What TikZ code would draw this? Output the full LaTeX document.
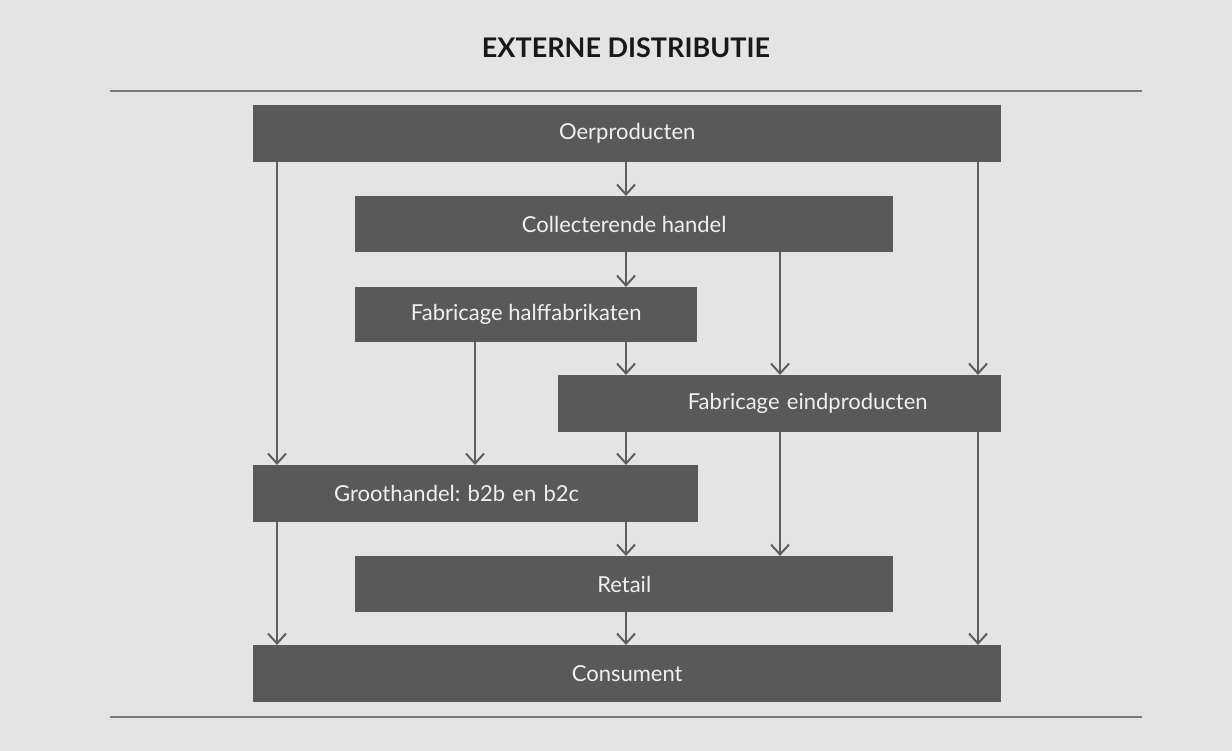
\documentclass[tikz,border=0pt]{standalone}
\usepackage{fontspec}
\setmainfont{Lato}
\usetikzlibrary{arrows.meta}
\definecolor{bg}{HTML}{E4E4E4}
\definecolor{boxc}{HTML}{595959}
\definecolor{linec}{HTML}{5E5E5E}
\definecolor{rulec}{HTML}{7A7A7A}
\definecolor{txtc}{HTML}{F0F0F0}
\tikzset{
  stage/.style={fill=boxc, draw=none, text=txtc, inner sep=0pt, font=\frenchspacing\fontsize{22}{26}\selectfont, anchor=north west},
  flow/.style={draw=linec, line width=2pt, -{Straight Barb[length=10pt,width=18pt,line width=2pt]}},
  rulel/.style={draw=rulec, line width=1.6pt}
}
\begin{document}
\begin{tikzpicture}[x=1pt,y=-1pt]
\fill[bg] (0,0) rectangle (1232,751);
\useasboundingbox (0,0) rectangle (1232,751);
\node[font=\bfseries\fontsize{27}{30}\selectfont, text=black!90] (title) at (626,48) {EXTERNE DISTRIBUTIE};
\coordinate (r1a) at (110,91); \coordinate (r1b) at (1142,91);
\coordinate (r2a) at (110,717); \coordinate (r2b) at (1142,717);
\draw[rulel] (r1a) -- (r1b);
\draw[rulel] (r2a) -- (r2b);

\node[stage, minimum width=748pt, minimum height=57pt] (oer) at (253,105) {Oerproducten};
\node[stage, minimum width=538pt, minimum height=56pt] (col) at (355,196) {Collecterende handel};
\node[stage, minimum width=342pt, minimum height=55pt] (half) at (355,287) {Fabricage halffabrikaten};
\node[stage, minimum width=443pt, minimum height=57pt, text width=443pt, align=center] (eind) at (558,375) {\hspace*{56pt}Fabricage eindproducten};
\node[stage, minimum width=445pt, minimum height=57pt, text width=445pt, align=center] (groot) at (253,465) {\hspace*{-38pt}Groothandel: b2b en b2c};
\node[stage, minimum width=538pt, minimum height=56pt] (ret) at (355,556) {Retail};
\node[stage, minimum width=748pt, minimum height=57pt] (con) at (253,645) {Consument};

% central spine x=626
\draw[flow] (oer.south -| 626,0) -- (col.north -| 626,0);
\draw[flow] (col.south -| 626,0) -- (half.north -| 626,0);
\draw[flow] (half.south -| 626,0) -- (eind.north -| 626,0);
\draw[flow] (eind.south -| 626,0) -- (groot.north -| 626,0);
\draw[flow] (groot.south -| 626,0) -- (ret.north -| 626,0);
\draw[flow] (ret.south -| 626,0) -- (con.north -| 626,0);
% left x=277
\draw[flow] (oer.south -| 277,0) -- (groot.north -| 277,0);
\draw[flow] (groot.south -| 277,0) -- (con.north -| 277,0);
% right x=978
\draw[flow] (oer.south -| 978,0) -- (eind.north -| 978,0);
\draw[flow] (eind.south -| 978,0) -- (con.north -| 978,0);
% x=780
\draw[flow] (col.south -| 780,0) -- (eind.north -| 780,0);
\draw[flow] (eind.south -| 780,0) -- (ret.north -| 780,0);
% x=475
\draw[flow] (half.south -| 475,0) -- (groot.north -| 475,0);
\end{tikzpicture}
\end{document}
